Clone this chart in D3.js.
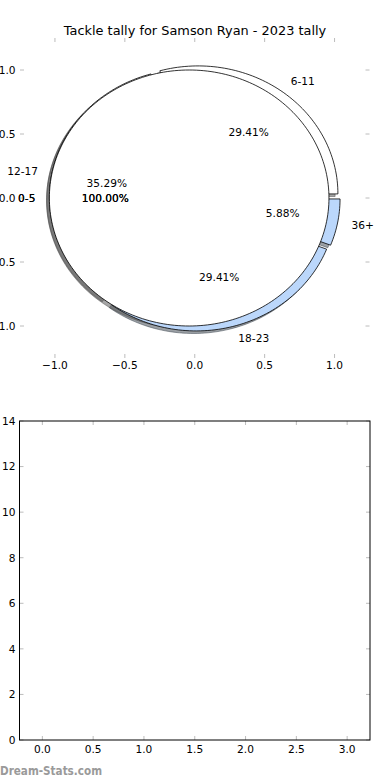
<!DOCTYPE html>
<html><head><meta charset="utf-8">
<script src="https://cdn.jsdelivr.net/npm/d3@7/dist/d3.min.js"></script>
<style>
html,body{margin:0;padding:0;background:#fff;}
svg{display:block;font-family:"DejaVu Sans",sans-serif;}
</style></head>
<body>
<script>
// ---- data ----
const title = "Tackle tally for Samson Ryan - 2023 tally";
const categories = ["6-11", "12-17", "18-23", "36+"];
const values = [5, 6, 5, 1];
const wedgeColors = ["#ffffff", "#ffffff", "#bbd7fb", "#bbd7fb"];
const fullCategories = ["0-5"];
const fullValues = [1];
const fullColors = ["#ffffff"];
const explode = 0.04;
const pieTicks = [-1.0, -0.5, 0.0, 0.5, 1.0];
const barYTicks = [0, 2, 4, 6, 8, 10, 12, 14];
const barXTicks = [0.0, 0.5, 1.0, 1.5, 2.0, 2.5, 3.0];
const watermark = "Dream-Stats.com";

const W = 390, H = 780;
const FS = 10.6;
const svg = d3.select("body").append("svg").attr("width", W).attr("height", H);

// ---- pie axes ----
const px = d3.scaleLinear().domain([-1.25, 1.25]).range([20, 369.5]);
const py = d3.scaleLinear().domain([-1.25, 1.25]).range([358, 38]);
const tickColor = "#bcbcbc";
const fmt1 = v => d3.format(".1f")(v).replace("-", "\u2212");

svg.append("text").attr("x", 195).attr("y", 34.5).attr("text-anchor", "middle")
  .attr("font-size", 12.9).text(title);

const gAx = svg.append("g");
pieTicks.forEach(t => {
  gAx.append("line").attr("x1", px(t)).attr("x2", px(t)).attr("y1", 358).attr("y2", 354).attr("stroke", tickColor);
  gAx.append("line").attr("x1", px(t)).attr("x2", px(t)).attr("y1", 38).attr("y2", 42).attr("stroke", tickColor);
  gAx.append("line").attr("y1", py(t)).attr("y2", py(t)).attr("x1", 20).attr("x2", 24).attr("stroke", tickColor);
  gAx.append("line").attr("y1", py(t)).attr("y2", py(t)).attr("x1", 369.5).attr("x2", 365.5).attr("stroke", tickColor);
  gAx.append("text").attr("x", px(t)).attr("y", 369).attr("text-anchor", "middle").attr("font-size", FS).text(fmt1(t));
  gAx.append("text").attr("x", 15.5).attr("y", py(t) + 3.8).attr("text-anchor", "end").attr("font-size", FS).text(fmt1(t));
});

// build wedges (matplotlib-style: start at 0deg, counter-clockwise)
function buildPie(vals, labels, colors) {
  const total = d3.sum(vals);
  let a = 0;
  return vals.map((v, i) => {
    const a1 = a, a2 = a + 360 * v / total;
    a = a2;
    const mid = (a1 + a2) / 2 * Math.PI / 180;
    const cx = explode * Math.cos(mid), cy = explode * Math.sin(mid);
    return {a1, a2, mid, cx, cy, label: labels[i], color: colors[i], pct: v / total * 100, full: (a2 - a1) >= 359.999};
  });
}
function wedgePath(w, ox, oy) {
  const pts = [];
  const n = Math.max(2, Math.ceil((w.a2 - w.a1) / 1.5));
  const ang = d3.range(n + 1).map(k => (w.a1 + (w.a2 - w.a1) * k / n) * Math.PI / 180);
  if (!w.full) pts.push([w.cx, w.cy]);
  ang.forEach(t => pts.push([w.cx + Math.cos(t), w.cy + Math.sin(t)]));
  const line = d3.line().x(d => px(d[0] + ox)).y(d => py(d[1] + oy));
  return line(pts) + "Z";
}
function shade(c) {
  const r = d3.rgb(c);
  return d3.rgb(r.r * 0.3, r.g * 0.3, r.b * 0.3).toString();
}

const pieA = buildPie(values, categories, wedgeColors);
const pieB = buildPie(fullValues, fullCategories, fullColors);

const gShadow = svg.append("g");
[pieA, pieB].forEach(p => p.forEach(w => {
  gShadow.append("path").attr("d", wedgePath(w, -0.02, -0.02))
    .attr("fill", shade(w.color)).attr("stroke", shade(w.color)).attr("stroke-width", 1)
    .attr("fill-opacity", 0.5).attr("stroke-opacity", 0.5);
}));
const gW = svg.append("g");
[pieA, pieB].forEach(p => p.forEach(w => {
  gW.append("path").attr("d", wedgePath(w, 0, 0))
    .attr("fill", w.color).attr("stroke", "#000").attr("stroke-width", 0.8).attr("stroke-linejoin", "round");
}));

const gT = svg.append("g").attr("font-size", FS);
function addLabels(p, reps) {
  p.forEach(w => {
    const lx = w.cx + 1.1 * Math.cos(w.mid), ly = w.cy + 1.1 * Math.sin(w.mid);
    const tx = w.cx + 0.6 * Math.cos(w.mid), ty = w.cy + 0.6 * Math.sin(w.mid);
    for (let r = 0; r < reps; r++) {
      gT.append("text").attr("x", px(lx)).attr("y", py(ly) + 3.8)
        .attr("text-anchor", lx > 0 ? "start" : "end").text(w.label);
      gT.append("text").attr("x", px(tx)).attr("y", py(ty) + 3.8)
        .attr("text-anchor", "middle").text(d3.format(".2f")(w.pct) + "%");
    }
  });
}
addLabels(pieA, 1);
addLabels(pieB, 2);

// ---- lower (empty) axes ----
const bx = d3.scaleLinear().domain([-0.225, 3.225]).range([19.5, 370]);
const by = d3.scaleLinear().domain([0, 14]).range([740, 421]);
const gB = svg.append("g");
barYTicks.forEach(t => {
  gB.append("line").attr("x1", 19.5).attr("x2", 23.5).attr("y1", by(t)).attr("y2", by(t)).attr("stroke", tickColor);
  gB.append("line").attr("x1", 370).attr("x2", 366).attr("y1", by(t)).attr("y2", by(t)).attr("stroke", tickColor);
  gB.append("text").attr("x", 15.5).attr("y", by(t) + 3.8).attr("text-anchor", "end").attr("font-size", FS).text(t);
});
barXTicks.forEach(t => {
  gB.append("line").attr("x1", bx(t)).attr("x2", bx(t)).attr("y1", 740).attr("y2", 736).attr("stroke", tickColor);
  gB.append("line").attr("x1", bx(t)).attr("x2", bx(t)).attr("y1", 421).attr("y2", 425).attr("stroke", tickColor);
  gB.append("text").attr("x", bx(t)).attr("y", 753).attr("text-anchor", "middle").attr("font-size", FS).text(d3.format(".1f")(t));
});
gB.append("rect").attr("x", 19.5).attr("y", 421).attr("width", 350.5).attr("height", 319)
  .attr("fill", "none").attr("stroke", "#000").attr("stroke-width", 1);

svg.append("text").attr("x", 0).attr("y", 774.5).attr("font-size", 12).attr("font-weight", "bold")
  .attr("fill", "#9a9a9a").attr("textLength", 102).attr("lengthAdjust", "spacingAndGlyphs").text(watermark);
</script>
</body></html>
